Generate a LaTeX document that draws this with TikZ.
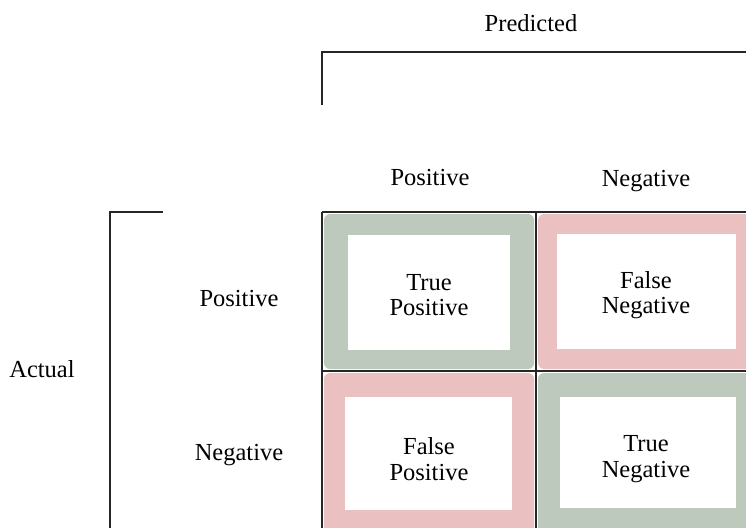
\documentclass[tikz,border=0pt]{standalone}
\usepackage{fontspec}
\setmainfont{Liberation Serif}
\definecolor{cgreen}{HTML}{BCC9BC}
\definecolor{cpink}{HTML}{EBC0C0}
\begin{document}
\begin{tikzpicture}[x=1pt,y=-1pt,
  lbl/.style={font=\fontsize{24.5}{25.5}\selectfont, align=center, inner sep=0pt},
  line/.style={line width=1.3pt, black!85},
  cellfill/.style={rounded corners=6pt, draw=none},
  inner/.style={fill=white, draw=none}]
\useasboundingbox (0,0) rectangle (746,527);
\begin{scope}
\clip (0,0) rectangle (746,527);
% cell backgrounds
\fill[cellfill, cgreen] (324,214) rectangle (534,369);
\fill[cellfill, cpink] (538,214) rectangle (760,369);
\fill[cellfill, cpink] (324,373) rectangle (534,540);
\fill[cellfill, cgreen] (538,373) rectangle (760,540);
\fill[inner] (348,235) rectangle (510,350);
\fill[inner] (557,234) rectangle (736,349);
\fill[inner] (345,397) rectangle (512,510);
\fill[inner] (560,397) rectangle (736,508);
% grid
\draw[line] (322,212) -- (760,212);
\draw[line] (322,371) -- (760,371);
\draw[line] (322,212) -- (322,540);
\draw[line] (536,212) -- (536,540);
% brackets
\draw[line] (322,105) -- (322,52) -- (760,52);
\draw[line] (163,212) -- (110,212) -- (110,540);
\end{scope}
% labels
\node[lbl] (pred) at (531,23) {Predicted};
\node[lbl] (cpos) at (430,178) {Positive};
\node[lbl] (cneg) at (646,181) {Negative};
\node[lbl] (rpos) at (239,299) {Positive};
\node[lbl] (rneg) at (239,455) {Negative};
\node[lbl] (act) at (42,369) {Actual};
\node[lbl] (tp) at (429,295) {True\\Positive};
\node[lbl] (fn) at (646,295) {False\\Negative};
\node[lbl] (fp) at (429,459) {False\\Positive};
\node[lbl] (tn) at (646,459) {True\\Negative};
\end{tikzpicture}
\end{document}
